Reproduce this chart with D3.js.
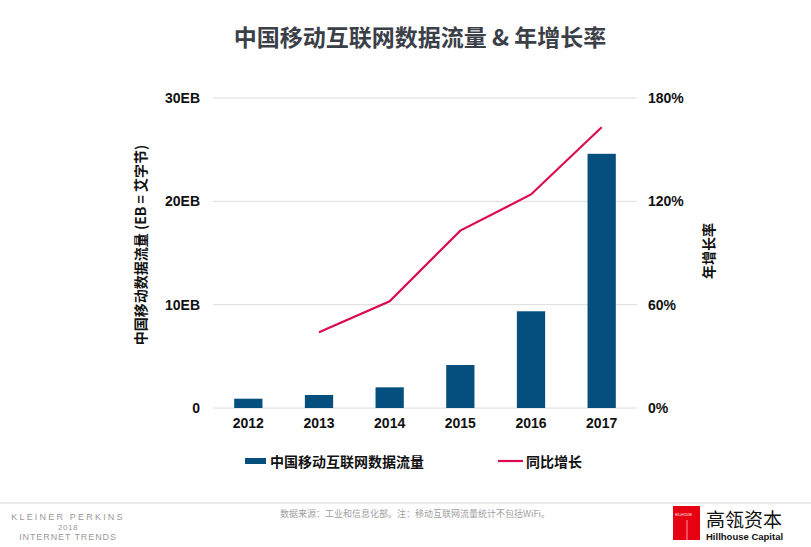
<!DOCTYPE html>
<html><head><meta charset="utf-8">
<script src="https://cdn.jsdelivr.net/npm/d3@7"></script>
<style>body{margin:0;background:#fff;} svg{display:block;font-family:"Liberation Sans","Noto Sans CJK SC",sans-serif;}</style>
</head><body>
<svg id="c" width="811" height="547"></svg>
<script>
const years = ["2012","2013","2014","2015","2016","2017"];
const traffic = [0.9, 1.26, 2.0, 4.16, 9.36, 24.6];
const growth = [null, 44, 62, 103, 124, 163];
const leftTicks = [0, 10, 20, 30];
const rightTicks = [0, 60, 120, 180];

const svg = d3.select("#c");
const cjk = '"Noto Sans CJK SC","Liberation Sans",sans-serif';
const L = 213, R = 637, T = 98, B = 408;
const x = d3.scaleBand().domain(years).range([L, R]).paddingInner(0.6).paddingOuter(0.3);
const y = d3.scaleLinear().domain([0, 30]).range([B, T]);
const y2 = d3.scaleLinear().domain([0, 180]).range([B, T]);

// title
svg.append("text").attr("x", 420).attr("y", 46).attr("text-anchor", "middle")
  .attr("font-family", cjk).attr("font-weight", "bold").attr("font-size", 23).attr("fill", "#3b4048")
  .text("中国移动互联网数据流量 & 年增长率");

// grid
svg.append("g").selectAll("line").data(leftTicks).join("line")
  .attr("x1", L).attr("x2", R).attr("y1", d => y(d)).attr("y2", d => y(d))
  .attr("stroke", "#dcdcdc").attr("stroke-width", 1);

const tickStyle = g => g.selectAll("text").attr("font-size", 14).attr("font-weight", "bold").attr("fill", "#111").attr("font-family", "Liberation Sans, sans-serif");

// left axis
const ga = svg.append("g").attr("transform", `translate(${L},0)`)
  .call(d3.axisLeft(y).tickValues(leftTicks).tickSize(0).tickPadding(13).tickFormat(d => d === 0 ? "0" : d + "EB"));
ga.select(".domain").remove();
tickStyle(ga);

// right axis
const gr = svg.append("g").attr("transform", `translate(${R},0)`)
  .call(d3.axisRight(y2).tickValues(rightTicks).tickSize(0).tickPadding(11).tickFormat(d => d + "%"));
gr.select(".domain").remove();
tickStyle(gr);

// x axis
const gx = svg.append("g").attr("transform", `translate(0,${B})`)
  .call(d3.axisBottom(x).tickSize(0).tickPadding(10));
gx.select(".domain").remove();
tickStyle(gx);

// bars
svg.append("g").selectAll("rect").data(years).join("rect")
  .attr("x", d => x(d)).attr("width", x.bandwidth())
  .attr("y", (d, i) => y(traffic[i])).attr("height", (d, i) => B - y(traffic[i]))
  .attr("fill", "#044f7e");

// line
const line = d3.line().defined(d => d.v != null).x(d => x(d.k) + x.bandwidth() / 2).y(d => y2(d.v));
svg.append("path").datum(years.map((k, i) => ({k, v: growth[i]})))
  .attr("d", line).attr("fill", "none").attr("stroke", "#dc0a50").attr("stroke-width", 2.2);

// axis titles
svg.append("text").attr("transform", "translate(146,245) rotate(-90)").attr("text-anchor", "middle")
  .attr("font-family", cjk).attr("font-weight", "bold").attr("font-size", 14).attr("fill", "#111")
  .text("中国移动数据流量 (EB = 艾字节)");
svg.append("text").attr("transform", "translate(714,251) rotate(-90)").attr("text-anchor", "middle")
  .attr("font-family", cjk).attr("font-weight", "bold").attr("font-size", 14).attr("fill", "#111")
  .text("年增长率");

// legend
svg.append("rect").attr("x", 245).attr("y", 458).attr("width", 21).attr("height", 6).attr("fill", "#044f7e");
svg.append("text").attr("x", 270).attr("y", 467).attr("font-family", cjk).attr("font-weight", "bold").attr("font-size", 14).attr("fill", "#111").text("中国移动互联网数据流量");
svg.append("line").attr("x1", 498).attr("x2", 523).attr("y1", 461).attr("y2", 461).attr("stroke", "#dc0a50").attr("stroke-width", 2.2);
svg.append("text").attr("x", 526).attr("y", 467).attr("font-family", cjk).attr("font-weight", "bold").attr("font-size", 14).attr("fill", "#111").text("同比增长");

// footer
svg.append("line").attr("x1", 0).attr("x2", 811).attr("y1", 503).attr("y2", 503).attr("stroke", "#ececec").attr("stroke-width", 2);
const kp = svg.append("g").attr("font-family", "Liberation Sans, sans-serif").attr("font-size", 9).attr("fill", "#9a9a9a").attr("text-anchor", "middle");
kp.append("text").attr("x", 68).attr("y", 520).attr("letter-spacing", 2.2).text("KLEINER PERKINS");
kp.append("text").attr("x", 68).attr("y", 530).attr("font-size", 8).attr("letter-spacing", 0.6).text("2018");
kp.append("text").attr("x", 68).attr("y", 540).attr("letter-spacing", 0.9).text("INTERNET TRENDS");
svg.append("text").attr("x", 415).attr("y", 517).attr("text-anchor", "middle").attr("font-family", cjk)
  .attr("font-size", 9).attr("fill", "#a0a0a0").text("数据来源：工业和信息化部。注：移动互联网流量统计不包括WiFi。");
svg.append("rect").attr("x", 673).attr("y", 506).attr("width", 27).attr("height", 34).attr("fill", "#e60012");
svg.append("text").attr("x", 675).attr("y", 516).attr("font-size", 3).attr("fill", "#fff").attr("font-family", "Liberation Sans").text("HILLHOUSE");
svg.append("line").attr("x1", 687).attr("x2", 687).attr("y1", 520).attr("y2", 540).attr("stroke", "#fff").attr("stroke-width", 0.6);
svg.append("text").attr("x", 706).attr("y", 527).attr("font-family", cjk).attr("font-size", 19).attr("fill", "#111").text("高瓴资本");
svg.append("text").attr("x", 706).attr("y", 540).attr("font-family", "Liberation Sans, sans-serif").attr("font-weight", "bold").attr("font-size", 9.5).attr("fill", "#111").text("Hillhouse Capital");
</script>
</body></html>
